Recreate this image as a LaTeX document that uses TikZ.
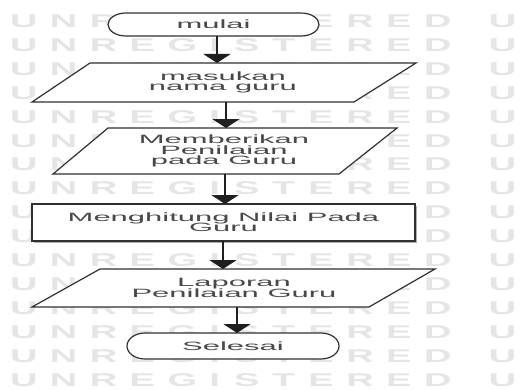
\documentclass[tikz,border=0pt]{standalone}
\usepackage{fontspec}
\usepackage{graphicx}
\usetikzlibrary{arrows.meta}
\newfontfamily\lblfont[FakeStretch=2.58]{Liberation Sans}
\newfontfamily\wmfont{Liberation Sans}
\definecolor{wmgray}{RGB}{229,229,229}
\definecolor{lblgray}{RGB}{72,72,72}
\definecolor{edgegray}{RGB}{48,48,48}
\definecolor{shadowgray}{RGB}{175,175,175}
\newcommand{\lblsize}{\fontsize{12}{10.3}\selectfont\lineskiplimit=-20pt\relax}
\newcommand{\wl}[2]{\makebox[#1pt][l]{#2}}
\newcommand{\wmrow}{\wmfont\bfseries\fontsize{18.5pt}{18.5pt}\selectfont\wl{19.46}{U}\wl{19.46}{N}\wl{19.46}{R}\wl{18.54}{E}\wl{20.39}{G}\wl{12.05}{I}\wl{18.54}{S}\wl{17.61}{T}\wl{18.54}{E}\wl{19.46}{R}\wl{18.54}{E}\wl{19.46}{D}\wl{12.05}{}U}
\begin{document}
\begin{tikzpicture}[x=1pt,y=1pt,
  wm/.style={anchor=base west, inner sep=0, outer sep=0, text=wmgray, xscale=2.05, transform shape},
  outline/.style={draw=edgegray, line width=1.2pt, fill=white, line join=miter},
  lbl/.style={draw=none, inner sep=0, outer sep=0, minimum width=20pt, align=center, text=lblgray, font=\lblfont\lblsize},
  rectbox/.style={lbl, draw=edgegray, fill=white, line width=1.2pt},
  arr/.style={draw=black!88, line width=2.4pt, -{Triangle[width=27pt,length=9pt]}}
]
\useasboundingbox (0,0) rectangle (529,389);
\fill[white] (0,0) rectangle (529,389);
% watermark
\foreach \k in {0,...,15}{
  \node[wm, name=wm\k] at (10,{361.5-23.9*\k}) {\wmrow};
}
% shape outlines
\draw[outline] (126,376) -- (301,376) arc[start angle=90,end angle=-90,x radius=18pt,y radius=11.5pt] -- (126,353) arc[start angle=270,end angle=90,x radius=18pt,y radius=11.5pt] -- cycle;
\draw[outline] (90,326) -- (416,326) -- (354,287) -- (32,287) -- cycle;
\draw[outline] (108,261) -- (397,261) -- (339,215) -- (53,215) -- cycle;
\fill[shadowgray] (34,146) rectangle (417,183);
\draw[outline] (100,120) -- (435,120) -- (369,82) -- (32,82) -- cycle;
\draw[outline] (145,56) -- (321,56) arc[start angle=90,end angle=-90,x radius=18pt,y radius=13pt] -- (145,30) arc[start angle=270,end angle=90,x radius=18pt,y radius=13pt] -- cycle;
% nodes
\node[lbl, minimum height=23pt] (t1) at (213.5,364.5) {mulai};
\node[lbl, minimum height=39pt] (p1) at (223,306.5) {masukan\\nama guru};
\node[lbl, minimum height=46pt] (p2) at (224,238) {Memberikan\\Penilaian\\pada Guru};
\node[rectbox, minimum width=383pt, minimum height=37pt] (r) at (223.5,166.5) {Menghitung Nilai Pada\\Guru};
\draw[edgegray, line width=2.2pt] (r.north west) -- (r.south west) (r.north east) -- (r.south east);
\node[lbl, minimum height=38pt] (p3) at (234,101) {Laporan\\Penilaian Guru};
\node[lbl, minimum height=26pt] (t2) at (233,43) {Selesai};
% connectors
\coordinate (c1) at (217,0);
\coordinate (c2) at (226,0);
\coordinate (c3) at (225,0);
\coordinate (c4) at (223,0);
\coordinate (c5) at (237,0);
\draw[arr] (t1.south -| c1) -- (p1.north -| c1);
\draw[arr] (p1.south -| c2) -- (p2.north -| c2);
\draw[arr] (p2.south -| c3) -- (r.north -| c3);
\draw[arr] (r.south -| c4) -- (p3.north -| c4);
\draw[arr] (p3.south -| c5) -- (t2.north -| c5);
\end{tikzpicture}
\end{document}
